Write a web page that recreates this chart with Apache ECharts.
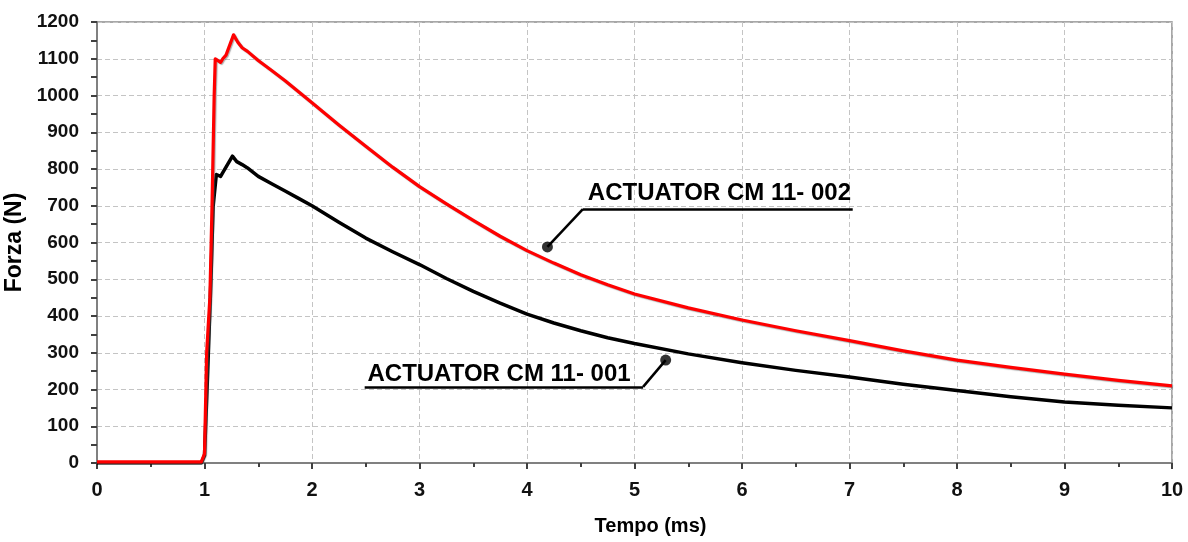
<!DOCTYPE html>
<html>
<head>
<meta charset="utf-8">
<script src="https://cdn.jsdelivr.net/npm/echarts@6/dist/echarts.min.js"></script>
<style>
html,body{margin:0;padding:0;background:#fff;}
#chart{width:1188px;height:542px;}
</style>
</head>
<body>
<div id="chart"></div>
<script>
// ---- Data ----
const tRed = [0, 0.97, 1.0, 1.02, 1.05, 1.07, 1.09, 1.10, 1.15, 1.17, 1.2, 1.27, 1.31, 1.35, 1.4, 1.5, 1.625, 1.75, 1.875, 2, 2.25, 2.5, 2.75, 3, 3.25, 3.5, 3.75, 4, 4.25, 4.5, 4.75, 5, 5.5, 6, 6.5, 7, 7.5, 8, 8.5, 9, 9.5, 10];
const fRed = [3, 3, 25, 300, 450, 700, 1000, 1100, 1090, 1100, 1110, 1165, 1145, 1130, 1120, 1095, 1068, 1040, 1010, 980, 920, 862, 805, 752, 705, 660, 617, 578, 544, 512, 485, 460, 422, 389, 360, 333, 305, 280, 260, 242, 225, 210];

const tBlack = [0, 0.97, 1.0, 1.03, 1.06, 1.08, 1.11, 1.15, 1.17, 1.2, 1.26, 1.3, 1.35, 1.4, 1.5, 1.625, 1.75, 1.875, 2, 2.25, 2.5, 2.75, 3, 3.25, 3.5, 3.75, 4, 4.25, 4.5, 4.75, 5, 5.5, 6, 6.5, 7, 7.5, 8, 8.5, 9, 9.5, 10];
const fBlack = [0, 0, 20, 250, 500, 697, 785, 780, 790, 805, 835, 820, 812, 803, 780, 760, 740, 720, 700, 655, 612, 575, 540, 502, 467, 435, 405, 381, 360, 341, 325, 297, 273, 252, 234, 214, 197, 180, 166, 157, 150];

const nameRed = 'ACTUATOR CM 11- 002';
const nameBlack = 'ACTUATOR CM 11- 001';

// annotation anchor points (data coordinates): dot, elbow, underline end, text centre
const annRedDot = [4.19, 588];
const annRedElbow = [4.52, 691];
const annRedEnd = [7.03, 691];
const annRedText = [5.79, 735];

const annBlackDot = [5.29, 280];
const annBlackElbow = [5.08, 207];
const annBlackEnd = [2.49, 207];
const annBlackText = [3.74, 242];

const xTicks = {min: 0, max: 10, interval: 1};
const yTicks = {min: 0, max: 1200, interval: 100};

// ---- Chart ----
const redData = tRed.map((t, i) => [t, fRed[i]]);
const blackData = tBlack.map((t, i) => [t, fBlack[i]]);

const axisFont = 'Liberation Sans, Arial, sans-serif';
const chart = echarts.init(document.getElementById('chart'), null, {renderer: 'canvas'});

const gridLine = {show: true, lineStyle: {color: '#c4c4c4', width: 1, type: [5, 3]}};
const axisLine = {show: true, onZero: false, lineStyle: {color: '#808080', width: 2}};

chart.setOption({
  animation: false,
  backgroundColor: '#ffffff',
  grid: {left: 97, right: 16, top: 22, bottom: 79, containLabel: false, outerBoundsMode: 'none',
    show: true, borderColor: '#8a8a8a', borderWidth: 1.5, backgroundColor: 'transparent'},
  xAxis: {
    type: 'value', min: xTicks.min, max: xTicks.max, interval: xTicks.interval,
    name: 'Tempo (ms)', nameLocation: 'middle', nameGap: 53,
    nameTextStyle: {fontFamily: axisFont, fontWeight: 'bold', fontSize: 20, color: '#000', padding: [0, 0, 0, 32]},
    axisLine: axisLine,
    axisTick: {show: true, length: 6, lineStyle: {color: '#404040', width: 2}},
    minorTick: {show: true, splitNumber: 2, length: 4, lineStyle: {color: '#404040', width: 2}},
    axisLabel: {fontFamily: axisFont, fontWeight: 'bold', fontSize: 20, color: '#111', margin: 17,
      formatter: v => String(v)},
    splitLine: gridLine
  },
  yAxis: {
    type: 'value', min: yTicks.min, max: yTicks.max, interval: yTicks.interval,
    name: 'Forza (N)', nameLocation: 'middle', nameGap: 68, nameRotate: 90,
    nameTextStyle: {fontFamily: axisFont, fontWeight: 'bold', fontSize: 23, color: '#000'},
    axisLine: axisLine,
    axisTick: {show: true, length: 6, lineStyle: {color: '#404040', width: 2}},
    minorTick: {show: true, splitNumber: 2, length: 6, lineStyle: {color: '#404040', width: 2}},
    axisLabel: {fontFamily: axisFont, fontWeight: 'bold', fontSize: 19, color: '#111', margin: 18,
      formatter: v => String(v)},
    splitLine: gridLine
  },
  series: [
    {
      name: nameBlack, type: 'line', data: blackData, showSymbol: false, smooth: false,
      lineStyle: {color: '#000000', width: 3.5, join: 'round'}, z: 3
    },
    {
      name: nameRed, type: 'line', data: redData, showSymbol: false, smooth: false,
      lineStyle: {color: '#ff0000', width: 3.2, join: 'round', shadowColor: 'rgba(90,90,90,0.5)', shadowBlur: 1, shadowOffsetX: 1, shadowOffsetY: 1}, z: 4
    },
    {
      name: 'annotations', type: 'scatter', data: [annRedDot, annBlackDot],
      symbol: 'circle', symbolSize: 11, itemStyle: {color: '#000'}, z: 6, silent: true,
      markLine: {
        silent: true, symbol: ['none', 'none'], label: {show: false},
        lineStyle: {color: '#000', width: 2.5, type: 'solid'},
        data: [
          [{coord: annRedDot}, {coord: annRedElbow}],
          [{coord: annRedElbow}, {coord: annRedEnd}],
          [{coord: annBlackDot}, {coord: annBlackElbow}],
          [{coord: annBlackElbow}, {coord: annBlackEnd}]
        ]
      },
      markPoint: {
        silent: true, symbol: 'rect', symbolSize: [1, 1], itemStyle: {color: 'rgba(0,0,0,0)'},
        label: {show: true, position: 'inside', formatter: p => p.name,
          fontFamily: axisFont, fontWeight: 'bold', fontSize: 24, color: '#000'},
        data: [
          {name: nameRed, coord: annRedText},
          {name: nameBlack, coord: annBlackText}
        ]
      }
    }
  ]
});
</script>
</body>
</html>
